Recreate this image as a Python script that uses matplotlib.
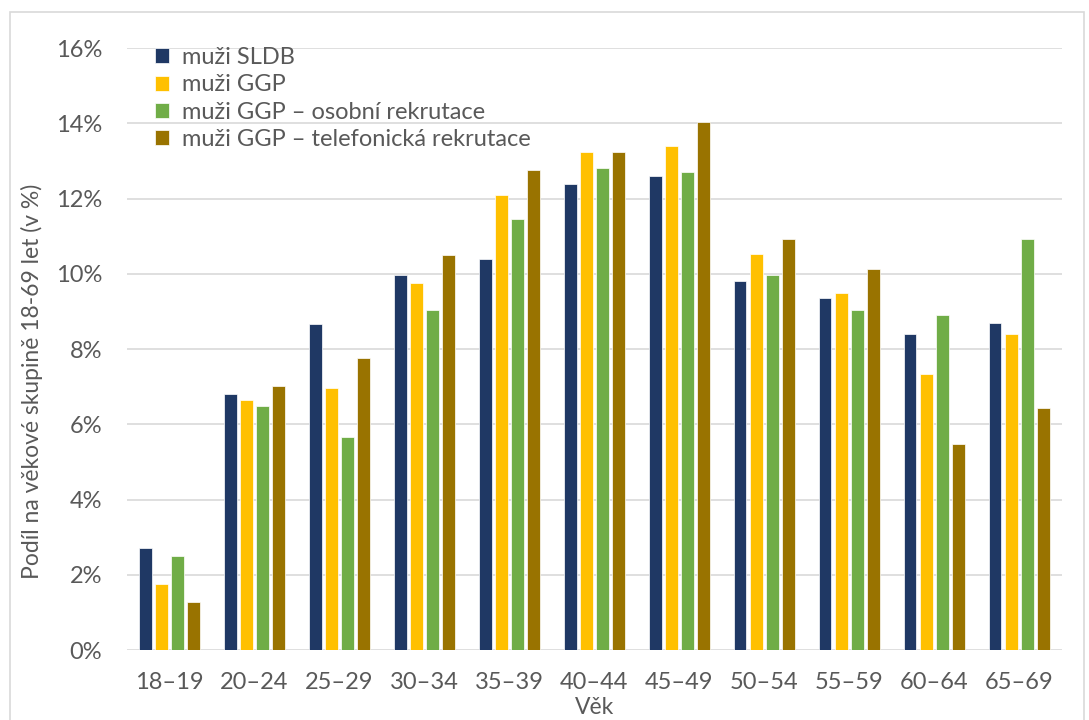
import numpy as np
import matplotlib.pyplot as plt
from matplotlib.patches import Rectangle
from matplotlib.ticker import FuncFormatter

plt.rcParams['font.family'] = ['Lato', 'DejaVu Sans']

vek = ['18–19', '20–24', '25–29', '30–34', '35–39', '40–44', '45–49',
       '50–54', '55–59', '60–64', '65–69']
muzi_sldb = [2.71, 6.82, 8.66, 9.98, 10.40, 12.40, 12.60, 9.81, 9.35, 8.40, 8.70]
muzi_ggp = [1.76, 6.66, 6.97, 9.76, 12.09, 13.23, 13.39, 10.54, 9.50, 7.34, 8.39]
muzi_osobni = [2.50, 6.50, 5.66, 9.03, 11.45, 12.81, 12.71, 9.97, 9.03, 8.92, 10.92]
muzi_telefon = [1.28, 7.02, 7.77, 10.50, 12.77, 13.23, 14.03, 10.92, 10.13, 5.49, 6.44]

serie = [
    ('muži SLDB', muzi_sldb, '#1f3864'),
    ('muži GGP', muzi_ggp, '#ffc000'),
    ('muži GGP – osobní rekrutace', muzi_osobni, '#70ad47'),
    ('muži GGP – telefonická rekrutace', muzi_telefon, '#997300'),
]

sediva = '#595959'

fig = plt.figure(figsize=(10.89, 7.2), dpi=100)
ax = fig.add_axes([0.1166, 0.0972, 0.8584, 0.8358])

x = np.arange(len(vek))
krok = 0.19
sirka = 0.15
for i, (nazev, hodnoty, barva) in enumerate(serie):
    ax.bar(x + (i - 1.5) * krok, hodnoty, sirka, color=barva, label=nazev,
           edgecolor='white', linewidth=0.5, zorder=3)

ax.set_xlim(-0.5, len(vek) - 0.5)
ax.set_ylim(0, 16)
ax.set_yticks(np.arange(0, 17, 2))
ax.yaxis.set_major_formatter(FuncFormatter(lambda v, p: f'{v:.0f}%'))
ax.set_xticks(x)
ax.set_xticklabels(vek)
ax.grid(axis='y', color='#d9d9d9', linewidth=1.2, zorder=0)
ax.tick_params(length=0, labelsize=17, colors=sediva)
ax.tick_params(axis='x', pad=16)
ax.tick_params(axis='y', pad=18)
for s in ax.spines.values():
    s.set_visible(False)

# popisky os jako text v obrazku (Excel je ma posunute)
fig.text(32 / 1089, 0.47, 'Podíl na věkové skupině 18-69 let (v %)', fontsize=16.5,
         color=sediva, rotation=90, ha='center', va='center')
fig.text(0.1166 + 0.8584 / 2, 13 / 720, 'Věk', fontsize=16.5, color=sediva,
         ha='center', va='center')

leg = ax.legend(loc='upper left', bbox_to_anchor=(0.007, 1.037), frameon=False,
                fontsize=17, labelcolor=sediva, handlelength=0.6,
                handleheight=0.6, handletextpad=0.55, labelspacing=0.26)

fig.patches.append(Rectangle((10 / 1089, -0.05), 1074 / 1089, 1.05 - 12 / 720,
                             transform=fig.transFigure, fill=False,
                             edgecolor='#d9d9d9', linewidth=1.2))

fig.savefig('out.png', dpi=100)
